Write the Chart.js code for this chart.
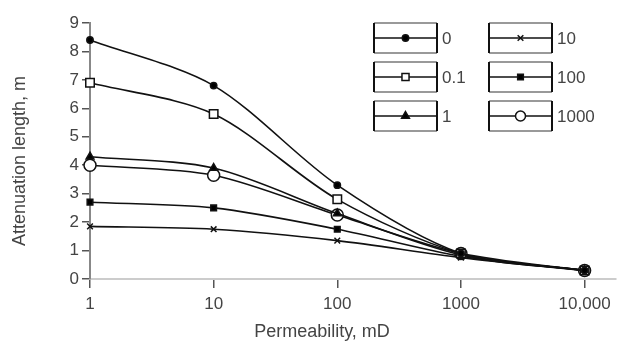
<!DOCTYPE html>
<html>
<head>
<meta charset="utf-8">
<script src="https://cdn.jsdelivr.net/npm/chart.js@4/dist/chart.umd.min.js"></script>
<style>
html,body{margin:0;padding:0;background:#fff;}
#wrap{width:623px;height:344px;position:relative;}
</style>
</head>
<body>
<div id="wrap"><canvas id="c" width="623" height="344"></canvas></div>
<script>
// Data
const permeability = [1, 10, 100, 1000, 10000];
const xTickLabels = ['1', '10', '100', '1000', '10,000'];
const seriesNames = ['0', '0.1', '1', '10', '100', '1000'];
const s0    = [8.4, 6.8, 3.3, 0.9, 0.3];
const s0_1  = [6.9, 5.8, 2.8, 0.9, 0.3];
const s1    = [4.3, 3.9, 2.3, 0.85, 0.3];
const s10   = [1.85, 1.75, 1.35, 0.75, 0.3];
const s100  = [2.7, 2.5, 1.75, 0.8, 0.3];
const s1000 = [4.0, 3.65, 2.25, 0.9, 0.3];
const yTicks = [0,1,2,3,4,5,6,7,8,9];
const xTitle = 'Permeability, mD';
const yTitle = 'Attenuation length, m';

const styles = [
  {pointStyle:'circle', pointRadius:3.2, fill:'#000'},
  {pointStyle:'rect', pointRadius:6, fill:'#fff'},
  {pointStyle:'triangle', pointRadius:4.5, fill:'#000'},
  {pointStyle:'crossRot', pointRadius:4, fill:'#000'},
  {pointStyle:'rect', pointRadius:4, fill:'#000'},
  {pointStyle:'circle', pointRadius:6, fill:'#fff'}
];
const values = [s0, s0_1, s1, s10, s100, s1000];

const datasets = values.map((v, i) => ({
  label: seriesNames[i],
  data: permeability.map((x, k) => ({x: x, y: v[k]})),
  borderColor: '#111',
  borderWidth: 1.6,
  pointStyle: styles[i].pointStyle,
  pointRadius: styles[i].pointRadius,
  pointBackgroundColor: styles[i].fill,
  pointBorderColor: '#111',
  pointBorderWidth: 1.5,
  tension: 0.3,
  clip: false
}));

const FAMILY = '"Liberation Sans", Arial, sans-serif';

const legendPlugin = {
  id: 'boxLegend',
  afterDraw(chart) {
    const ctx = chart.ctx;
    const cols = [374, 489];
    const rows = [23, 62, 101];
    const bw = 63, bh = 30;
    ctx.save();
    chart.data.datasets.forEach((ds, i) => {
      const x = cols[Math.floor(i / 3)];
      const y = rows[i % 3];
      ctx.lineWidth = 2;
      ctx.strokeStyle = '#999';
      ctx.beginPath();
      ctx.moveTo(x, y); ctx.lineTo(x + bw, y);
      ctx.moveTo(x, y + bh); ctx.lineTo(x + bw, y + bh);
      ctx.stroke();
      ctx.strokeStyle = '#111';
      ctx.beginPath();
      ctx.moveTo(x, y); ctx.lineTo(x, y + bh);
      ctx.moveTo(x + bw, y); ctx.lineTo(x + bw, y + bh);
      ctx.stroke();
      ctx.lineWidth = 1.6;
      ctx.beginPath();
      ctx.moveTo(x, y + bh / 2); ctx.lineTo(x + bw, y + bh / 2);
      ctx.stroke();
      ctx.fillStyle = ds.pointBackgroundColor;
      ctx.strokeStyle = '#111';
      ctx.lineWidth = 1.5;
      Chart.helpers.drawPoint(ctx, {pointStyle: ds.pointStyle, radius: Math.min(ds.pointRadius, 5), rotation: 0, borderWidth: 1.5}, x + bw / 2, y + bh / 2);
      ctx.fillStyle = '#444';
      ctx.font = '17px ' + FAMILY;
      ctx.textBaseline = 'middle';
      ctx.textAlign = 'left';
      ctx.fillText(ds.label, x + bw + 5, y + bh / 2 + 1);
    });
    // axis titles
    ctx.fillStyle = '#444';
    ctx.font = '18px ' + FAMILY;
    ctx.textAlign = 'center';
    ctx.textBaseline = 'middle';
    ctx.fillText(xTitle, 322, 332);
    ctx.translate(20, 161);
    ctx.rotate(-Math.PI / 2);
    ctx.fillText(yTitle, 0, 0);
    ctx.restore();
  }
};

const font = {family: FAMILY, size: 17};

new Chart(document.getElementById('c'), {
  type: 'line',
  data: {datasets: datasets},
  options: {
    responsive: false,
    animation: false,
    devicePixelRatio: 1,
    layout: {padding: {top: 23, right: 2, left: 0, bottom: 0}},
    plugins: {legend: {display: false}, tooltip: {enabled: false}},
    scales: {
      x: {
        type: 'logarithmic',
        min: 1,
        max: Math.pow(10, 4.25),
        afterBuildTicks: s => { s.ticks = permeability.map(v => ({value: v})); },
        afterFit: s => { s.height = 65; },
        ticks: {
          font: font, color: '#444', padding: 6, maxRotation: 0, autoSkip: false,
          callback: (v, i) => xTickLabels[i]
        },
        grid: {drawOnChartArea: false, drawTicks: true, tickLength: 9, color: '#555', lineWidth: 1.5},
        border: {display: true, color: '#ccc', width: 2}
      },
      y: {
        min: 0, max: 9,
        afterBuildTicks: s => { s.ticks = yTicks.map(v => ({value: v})); },
        afterFit: s => { s.width = 90; },
        ticks: {font: font, color: '#444', padding: 3, autoSkip: false},
        grid: {drawOnChartArea: false, drawTicks: true, tickLength: 8, color: '#555', lineWidth: 1.5},
        border: {display: true, color: '#888', width: 2}
      }
    }
  },
  plugins: [legendPlugin]
});
</script>
</body>
</html>
